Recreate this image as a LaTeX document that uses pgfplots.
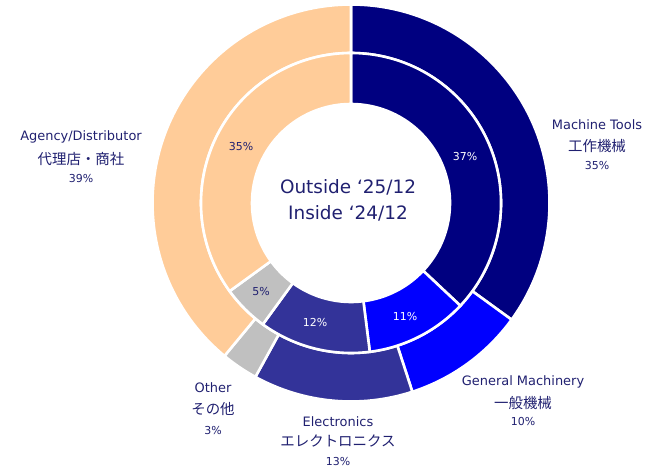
\documentclass[border=0pt]{standalone}
\usepackage{fontspec}
\setmainfont{DejaVu Sans}
\newfontfamily\jp{Noto Sans CJK JP}
\usepackage{pgfplots}
\usepackage{pgfplotstable}
\pgfplotsset{compat=1.18}
\definecolor{mt}{HTML}{000080}
\definecolor{gm}{HTML}{0000FF}
\definecolor{el}{HTML}{333399}
\definecolor{ot}{HTML}{C0C0C0}
\definecolor{ag}{HTML}{FFCC99}
\definecolor{txt}{HTML}{202070}

% Outside '25/12
\pgfplotstableread{
share col
35 mt
10 gm
13 el
3 ot
39 ag
}\outerdata
% Inside '24/12
\pgfplotstableread{
share col
37 mt
11 gm
12 el
5 ot
35 ag
}\innerdata

\newcommand{\ring}[3]{% table, inner radius, outer radius
  \gdef\curang{90}%
  \foreach \i in {0,...,4}{%
    \pgfplotstablegetelem{\i}{share}\of#1\let\val\pgfplotsretval
    \pgfplotstablegetelem{\i}{col}\of#1\let\col\pgfplotsretval
    \pgfmathsetmacro\endang{\curang-3.6*\val}%
    \fill[fill=\col, draw=white, line width=2.6bp, line join=miter]
      ([shift={(\curang:#3)}]C) arc[start angle=\curang, end angle=\endang, radius=#3]
      -- ([shift={(\endang:#2)}]C) arc[start angle=\endang, end angle=\curang, radius=#2]
      -- cycle;
    \xdef\curang{\endang}%
  }%
}

\begin{document}
\begin{tikzpicture}
\path[use as bounding box] (0,0) rectangle (656bp,472bp);
\begin{axis}[at={(0,0)}, anchor=south west, width=656bp, height=472bp,
  scale only axis, hide axis, xmin=0, xmax=656, ymin=0, ymax=472, clip=false]
\pgfplotsextra{%
  \coordinate (C) at (axis cs:351,269);
  \ring{\outerdata}{150bp}{198.5bp}
  \ring{\innerdata}{99bp}{150bp}
}
% centre text
\node[txt, font=\fontsize{18.5}{20}\selectfont] at (axis cs:348,285) {Outside ‘25/12};
\node[txt, font=\fontsize{18.5}{20}\selectfont] at (axis cs:348,259) {Inside ‘24/12};
% inner labels
\node[white, font=\fontsize{11}{13}\selectfont] at (axis cs:465,315) {37\%};
\node[white, font=\fontsize{11}{13}\selectfont] at (axis cs:405,155) {11\%};
\node[white, font=\fontsize{11}{13}\selectfont] at (axis cs:315,149) {12\%};
\node[txt, font=\fontsize{11}{13}\selectfont] at (axis cs:261,180) {5\%};
\node[txt, font=\fontsize{11}{13}\selectfont] at (axis cs:241,325) {35\%};
% outer labels
\node[txt, font=\fontsize{13}{15}\selectfont] at (axis cs:597,347) {Machine Tools};
\node[txt, font=\jp\fontsize{14.5}{16}\selectfont] at (axis cs:597,326) {工作機械};
\node[txt, font=\fontsize{11}{13}\selectfont] at (axis cs:597,306) {35\%};

\node[txt, font=\fontsize{13}{15}\selectfont] at (axis cs:523,90) {General Machinery};
\node[txt, font=\jp\fontsize{14.5}{16}\selectfont] at (axis cs:523,69) {一般機械};
\node[txt, font=\fontsize{11}{13}\selectfont] at (axis cs:523,50) {10\%};

\node[txt, font=\fontsize{13}{15}\selectfont] at (axis cs:338,50) {Electronics};
\node[txt, font=\jp\fontsize{14.5}{16}\selectfont] at (axis cs:338,31) {エレクトロニクス};
\node[txt, font=\fontsize{11}{13}\selectfont] at (axis cs:338,10) {13\%};

\node[txt, font=\fontsize{13}{15}\selectfont] at (axis cs:213,84) {Other};
\node[txt, font=\jp\fontsize{14.5}{16}\selectfont] at (axis cs:213,63) {その他};
\node[txt, font=\fontsize{11}{13}\selectfont] at (axis cs:213,41) {3\%};

\node[txt, font=\fontsize{13}{15}\selectfont] at (axis cs:81,335) {Agency/Distributor};
\node[txt, font=\jp\fontsize{14.5}{16}\selectfont] at (axis cs:81,313) {代理店・商社};
\node[txt, font=\fontsize{11}{13}\selectfont] at (axis cs:81,293) {39\%};
\end{axis}
\end{tikzpicture}
\end{document}
